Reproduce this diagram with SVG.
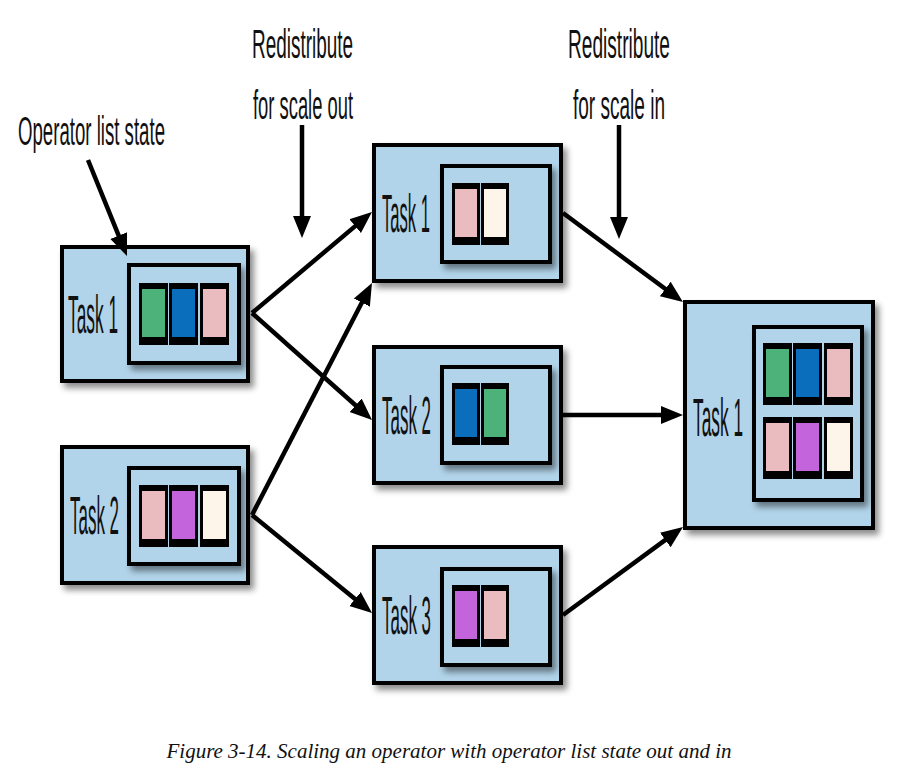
<svg xmlns="http://www.w3.org/2000/svg" width="898" height="778" viewBox="0 0 898 778">
<style>
.box{fill:#b2d4ea;stroke:#000;stroke-width:4;filter:url(#sh)}
.inner{fill:#b2d4ea;stroke:#000;stroke-width:4;filter:url(#sh)}
.cb{fill:#000}
.g{fill:#4cb27a}.b{fill:#0a6ebd}.p{fill:#eabcc0}.v{fill:#c464dc}.c{fill:#fdf4ea}
.tl{font-family:"Liberation Sans",Arial,sans-serif;font-size:54px;fill:#111}
.lab{font-family:"Liberation Sans",Arial,sans-serif;font-size:40px;fill:#111}
.cap{font-family:"Liberation Serif","Times New Roman",serif;font-style:italic;font-size:21px;fill:#111}
.ln{stroke:#000;stroke-width:4.5;fill:none;marker-end:url(#ah)}
</style>
<defs>
<filter id="sh" x="-10%" y="-10%" width="130%" height="130%">
<feDropShadow dx="4" dy="5" stdDeviation="3" flood-color="#000" flood-opacity="0.45"/>
</filter>
<marker id="ah" markerUnits="userSpaceOnUse" markerWidth="24" markerHeight="20" refX="4" refY="9" orient="auto" viewBox="0 0 24 18">
<path d="M0,0 L22,9 L0,18 z" fill="#000"/>
</marker>
</defs>
<rect width="898" height="778" fill="#fff"/>

<g id="labels">
<text class="lab" x="18" y="145" textLength="147" lengthAdjust="spacingAndGlyphs">Operator list state</text>
<text class="lab" x="252" y="58" textLength="101" lengthAdjust="spacingAndGlyphs">Redistribute</text>
<text class="lab" x="253" y="119" textLength="100" lengthAdjust="spacingAndGlyphs">for scale out</text>
<text class="lab" x="568" y="58" textLength="102" lengthAdjust="spacingAndGlyphs">Redistribute</text>
<text class="lab" x="573" y="119" textLength="92" lengthAdjust="spacingAndGlyphs">for scale in</text>
</g>

<g id="left-task1">
<rect class="box" x="62" y="247" width="186" height="134"/>
<text class="tl" x="68" y="333" textLength="50" lengthAdjust="spacingAndGlyphs">Task 1</text>
<rect class="inner" x="129" y="265" width="110" height="98"/>
<rect class="cb" x="139" y="283" width="29" height="62"/><rect class="g" x="142" y="289" width="23" height="48"/>
<rect class="cb" x="169" y="283" width="29" height="62"/><rect class="b" x="172" y="289" width="23" height="48"/>
<rect class="cb" x="200" y="283" width="29" height="62"/><rect class="p" x="203" y="289" width="23" height="48"/>
</g>

<g id="left-task2">
<rect class="box" x="62" y="447" width="186" height="136"/>
<text class="tl" x="70" y="534" textLength="49" lengthAdjust="spacingAndGlyphs">Task 2</text>
<rect class="inner" x="129" y="468" width="110" height="96"/>
<rect class="cb" x="139" y="485" width="29" height="62"/><rect class="p" x="142" y="491" width="23" height="48"/>
<rect class="cb" x="169" y="485" width="29" height="62"/><rect class="v" x="172" y="491" width="23" height="48"/>
<rect class="cb" x="200" y="485" width="29" height="62"/><rect class="c" x="203" y="491" width="23" height="48"/>
</g>

<g id="mid-task1">
<rect class="box" x="374" y="145" width="187" height="136"/>
<text class="tl" x="382" y="232" textLength="48" lengthAdjust="spacingAndGlyphs">Task 1</text>
<rect class="inner" x="442" y="166" width="108" height="96"/>
<rect class="cb" x="452" y="183" width="28" height="62"/><rect class="p" x="455" y="189" width="22" height="48"/>
<rect class="cb" x="481" y="183" width="28" height="62"/><rect class="c" x="484" y="189" width="22" height="48"/>
</g>

<g id="mid-task2">
<rect class="box" x="374" y="347" width="187" height="136"/>
<text class="tl" x="382" y="434" textLength="49" lengthAdjust="spacingAndGlyphs">Task 2</text>
<rect class="inner" x="442" y="367" width="108" height="96"/>
<rect class="cb" x="452" y="383" width="28" height="62"/><rect class="b" x="455" y="389" width="22" height="48"/>
<rect class="cb" x="481" y="383" width="28" height="62"/><rect class="g" x="484" y="389" width="22" height="48"/>
</g>

<g id="mid-task3">
<rect class="box" x="374" y="547" width="187" height="136"/>
<text class="tl" x="382" y="634" textLength="49" lengthAdjust="spacingAndGlyphs">Task 3</text>
<rect class="inner" x="442" y="569" width="108" height="96"/>
<rect class="cb" x="452" y="585" width="28" height="62"/><rect class="v" x="455" y="591" width="22" height="48"/>
<rect class="cb" x="481" y="585" width="28" height="62"/><rect class="p" x="484" y="591" width="22" height="48"/>
</g>

<g id="right-task1">
<rect class="box" x="685" y="302" width="188" height="226"/>
<text class="tl" x="693" y="436" textLength="50" lengthAdjust="spacingAndGlyphs">Task 1</text>
<rect class="inner" x="754" y="327" width="108" height="173"/>
<rect class="cb" x="763" y="343" width="29" height="62"/><rect class="g" x="766" y="349" width="23" height="48"/>
<rect class="cb" x="793" y="343" width="29" height="62"/><rect class="b" x="796" y="349" width="23" height="48"/>
<rect class="cb" x="824" y="343" width="29" height="62"/><rect class="p" x="827" y="349" width="23" height="48"/>
<rect class="cb" x="763" y="417" width="29" height="62"/><rect class="p" x="766" y="423" width="23" height="48"/>
<rect class="cb" x="793" y="417" width="29" height="62"/><rect class="v" x="796" y="423" width="23" height="48"/>
<rect class="cb" x="824" y="417" width="29" height="62"/><rect class="c" x="827" y="423" width="23" height="48"/>
</g>

<g id="connectors">
<line class="ln" x1="88" y1="160" x2="120.2" y2="239.3"/>
<line class="ln" x1="302" y1="125" x2="302" y2="220"/>
<line class="ln" x1="619" y1="125" x2="619" y2="221"/>
<line class="ln" x1="252" y1="313" x2="358.2" y2="223.6"/>
<line class="ln" x1="252" y1="313" x2="358.6" y2="408"/>
<line class="ln" x1="252" y1="515" x2="363.7" y2="299"/>
<line class="ln" x1="252" y1="515" x2="358.1" y2="601.6"/>
<line class="ln" x1="563" y1="213" x2="668.5" y2="291.3"/>
<line class="ln" x1="563" y1="415" x2="665" y2="415"/>
<line class="ln" x1="563" y1="615" x2="668.5" y2="537.6"/>
</g>

<text class="cap" x="449" y="758" text-anchor="middle">Figure 3-14. Scaling an operator with operator list state out and in</text>
</svg>
